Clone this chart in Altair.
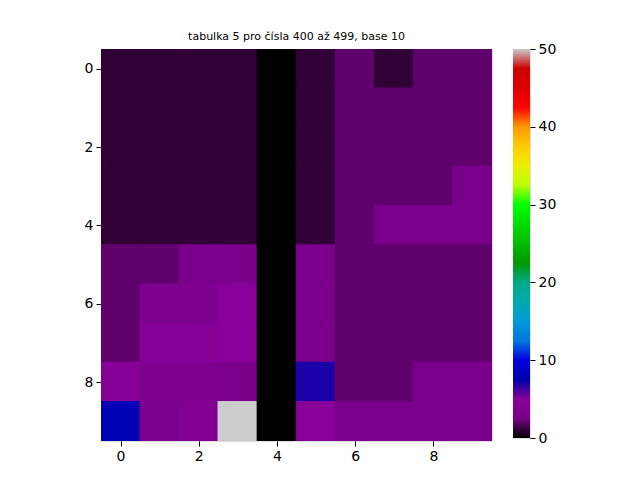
import altair as alt
import pandas as pd

title_text = "tabulka 5 pro čísla 400 až 499, base 10"

row0 = [1, 1, 1, 1, 0, 1, 2, 1, 2, 2]
row1 = [1, 1, 1, 1, 0, 1, 2, 2, 2, 2]
row2 = [1, 1, 1, 1, 0, 1, 2, 2, 2, 2]
row3 = [1, 1, 1, 1, 0, 1, 2, 2, 2, 3]
row4 = [1, 1, 1, 1, 0, 1, 2, 3, 3, 3]
row5 = [2, 2, 3, 3, 0, 3, 2, 2, 2, 2]
row6 = [2, 3.5, 3.5, 5, 0, 3, 2, 2, 2, 2]
row7 = [2, 4.5, 4.5, 5, 0, 3, 2, 2, 2, 2]
row8 = [4.5, 3.5, 3.5, 3, 0, 7, 2, 2, 3, 3]
row9 = [8, 3, 4, 50, 0, 5, 3, 3, 3, 3]
rows = [row0, row1, row2, row3, row4, row5, row6, row7, row8, row9]

tick_values = [0, 2, 4, 6, 8]
cbar_values = [0, 10, 20, 30, 40, 50]
vmin, vmax = 0, 50

# nipy_spectral colormap stops
cmap_stops = [i * 2.5 for i in range(21)]
cmap_colors = ["#000000", "#770088", "#880099", "#0000aa", "#0000dd", "#0077dd",
               "#0099dd", "#00aaaa", "#00aa88", "#009900", "#00bb00", "#00dd00",
               "#00ff00", "#bbff00", "#eeee00", "#ffcc00", "#ff9900", "#ff0000",
               "#dd0000", "#cc0000", "#cccccc"]

records = []
for r, row in enumerate(rows):
    for c, v in enumerate(row):
        records.append({"row": r, "col": c, "value": v,
                        "x0": c - 0.5, "x1": c + 0.5, "y0": r - 0.5, "y1": r + 0.5})
df = pd.DataFrame(records)

FONT = "DejaVu Sans"
cscale = alt.Scale(domain=cmap_stops, range=cmap_colors, interpolate="rgb")

axis_common = dict(title=None, grid=False, format="d", labelFont=FONT, labelFontSize=14,
                   labelColor="black", tickColor="black", tickSize=5, labelPadding=3,
                   domain=False, ticks=True)

heat = alt.Chart(df).mark_rect(strokeWidth=1.5, clip=True).encode(
    x=alt.X("x0:Q", scale=alt.Scale(domain=[-0.5, 9.5], nice=False, zero=False),
            axis=alt.Axis(values=tick_values, **axis_common)),
    x2="x1:Q",
    y=alt.Y("y0:Q", scale=alt.Scale(domain=[-0.5, 9.5], nice=False, zero=False, reverse=True),
            axis=alt.Axis(values=tick_values, **axis_common)),
    y2="y1:Q",
    color=alt.Color("value:Q", scale=cscale, legend=None),
    stroke=alt.Stroke("value:Q", scale=cscale, legend=None),
).properties(
    width=391, height=392,
    title=alt.Title(title_text, fontSize=11, font=FONT, fontWeight="normal",
                    color="black", anchor="middle", offset=7),
)

cbar_df = pd.DataFrame({"lo": [vmin], "hi": [vmax]})
gradient = alt.LinearGradient(
    gradient="linear",
    stops=[alt.GradientStop(offset=s / vmax, color=col) for s, col in zip(cmap_stops, cmap_colors)],
    x1=0, x2=0, y1=1, y2=0,
)
cbar = alt.Chart(cbar_df).mark_rect(color=gradient, strokeWidth=0).encode(
    x=alt.value(0), x2=alt.value(17),
    y=alt.Y("lo:Q", scale=alt.Scale(domain=[vmin, vmax], nice=False, zero=False),
            axis=alt.Axis(values=cbar_values, orient="right", **axis_common)),
    y2="hi:Q",
).properties(width=17, height=389)

chart = alt.hconcat(heat, cbar, spacing=21, bounds="flush").resolve_scale(
    x="independent", y="independent"
).properties(
    padding={"left": 75, "top": 22, "right": 5, "bottom": 5},
).configure_view(
    stroke="black", strokeWidth=1
).configure(background="white")

chart.save("out.html", embed_options={"renderer": "svg", "actions": False})
